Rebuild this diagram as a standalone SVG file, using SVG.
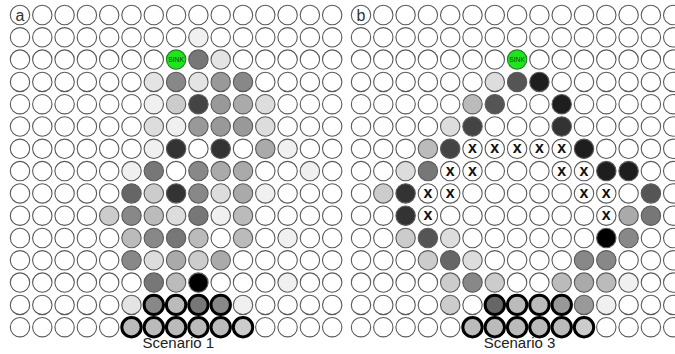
<svg xmlns="http://www.w3.org/2000/svg" width="675" height="354" viewBox="0 0 675 354">
<style>
circle{fill:#fff;stroke:#5a5a5a;stroke-width:1.1}
.t{stroke:#000;stroke-width:3}
.k0{fill:#000}.k1{fill:#1e1e1e}.k2{fill:#333}.k3{fill:#444}.k4{fill:#555}.k5{fill:#666}.k6{fill:#777}.k7{fill:#888}.k8{fill:#999}.k9{fill:#aaa}.ka{fill:#bbb}.kb{fill:#ccc}.kc{fill:#ddd}.kd{fill:#e4e4e4}.ke{fill:#f0f0f0}
.sink{fill:#1fe51f;stroke:#2a7a2a}
.st{font-family:"Liberation Sans",Arial,sans-serif;font-size:6.8px;fill:#0a4a0a;text-anchor:middle}
.x{font-family:"Liberation Sans",Arial,sans-serif;font-size:16px;font-weight:bold;fill:#111;text-anchor:middle}
.lb{font-family:"Liberation Sans",Arial,sans-serif;font-size:16px;fill:#333;text-anchor:middle}
.cap{font-family:"Liberation Sans",Arial,sans-serif;font-size:15px;fill:#222;text-anchor:middle}
</style>
<rect width="675" height="354" fill="#fff"/>
<g id="panel-a">
<g id="a-r0" transform="translate(0,15)"><g id="a-label"><circle cx="20" r="9.7"/><text class="lb" x="20" y="5.5">a</text></g><circle cx="42.3" r="9.7"/><circle cx="64.6" r="9.7"/><circle cx="86.9" r="9.7"/><circle cx="109.2" r="9.7"/><circle cx="131.5" r="9.7"/><circle cx="153.8" r="9.7"/><circle cx="176.1" r="9.7"/><circle cx="198.4" r="9.7"/><circle cx="220.7" r="9.7"/><circle cx="243" r="9.7"/><circle cx="265.3" r="9.7"/><circle cx="287.6" r="9.7"/><circle cx="309.9" r="9.7"/><circle cx="332.2" r="9.7"/></g>
<g id="a-r1" transform="translate(0,37.3)"><circle cx="20" r="9.7"/><circle cx="42.3" r="9.7"/><circle cx="64.6" r="9.7"/><circle cx="86.9" r="9.7"/><circle cx="109.2" r="9.7"/><circle cx="131.5" r="9.7"/><circle cx="153.8" r="9.7"/><circle cx="176.1" r="9.7"/><circle cx="198.4" r="9.7" class="ke"/><circle cx="220.7" r="9.7"/><circle cx="243" r="9.7"/><circle cx="265.3" r="9.7"/><circle cx="287.6" r="9.7"/><circle cx="309.9" r="9.7"/><circle cx="332.2" r="9.7"/></g>
<g id="a-r2" transform="translate(0,59.6)"><circle cx="20" r="9.7"/><circle cx="42.3" r="9.7"/><circle cx="64.6" r="9.7"/><circle cx="86.9" r="9.7"/><circle cx="109.2" r="9.7"/><circle cx="131.5" r="9.7"/><circle cx="153.8" r="9.7"/><g id="a-sink"><circle cx="176.1" r="9.7" class="sink"/><text class="st" x="176.1" y="2.4">SINK</text></g><circle cx="198.4" r="9.7" class="k6"/><circle cx="220.7" r="9.7" class="kd"/><circle cx="243" r="9.7"/><circle cx="265.3" r="9.7"/><circle cx="287.6" r="9.7"/><circle cx="309.9" r="9.7"/><circle cx="332.2" r="9.7"/></g>
<g id="a-r3" transform="translate(0,81.9)"><circle cx="20" r="9.7"/><circle cx="42.3" r="9.7"/><circle cx="64.6" r="9.7"/><circle cx="86.9" r="9.7"/><circle cx="109.2" r="9.7"/><circle cx="131.5" r="9.7"/><circle cx="153.8" r="9.7" class="kd"/><circle cx="176.1" r="9.7" class="k7"/><circle cx="198.4" r="9.7" class="kd"/><circle cx="220.7" r="9.7" class="k8"/><circle cx="243" r="9.7" class="k7"/><circle cx="265.3" r="9.7"/><circle cx="287.6" r="9.7"/><circle cx="309.9" r="9.7"/><circle cx="332.2" r="9.7"/></g>
<g id="a-r4" transform="translate(0,104.2)"><circle cx="20" r="9.7"/><circle cx="42.3" r="9.7"/><circle cx="64.6" r="9.7"/><circle cx="86.9" r="9.7"/><circle cx="109.2" r="9.7"/><circle cx="131.5" r="9.7"/><circle cx="153.8" r="9.7" class="ke"/><circle cx="176.1" r="9.7" class="kb"/><circle cx="198.4" r="9.7" class="k3"/><circle cx="220.7" r="9.7" class="k8"/><circle cx="243" r="9.7" class="k9"/><circle cx="265.3" r="9.7" class="kc"/><circle cx="287.6" r="9.7"/><circle cx="309.9" r="9.7"/><circle cx="332.2" r="9.7"/></g>
<g id="a-r5" transform="translate(0,126.5)"><circle cx="20" r="9.7"/><circle cx="42.3" r="9.7"/><circle cx="64.6" r="9.7"/><circle cx="86.9" r="9.7"/><circle cx="109.2" r="9.7"/><circle cx="131.5" r="9.7"/><circle cx="153.8" r="9.7" class="kc"/><circle cx="176.1" r="9.7" class="ke"/><circle cx="198.4" r="9.7" class="k8"/><circle cx="220.7" r="9.7" class="k8"/><circle cx="243" r="9.7" class="k8"/><circle cx="265.3" r="9.7" class="kc"/><circle cx="287.6" r="9.7"/><circle cx="309.9" r="9.7"/><circle cx="332.2" r="9.7"/></g>
<g id="a-r6" transform="translate(0,148.8)"><circle cx="20" r="9.7"/><circle cx="42.3" r="9.7"/><circle cx="64.6" r="9.7"/><circle cx="86.9" r="9.7"/><circle cx="109.2" r="9.7"/><circle cx="131.5" r="9.7"/><circle cx="153.8" r="9.7" class="ke"/><circle cx="176.1" r="9.7" class="k2"/><circle cx="198.4" r="9.7"/><circle cx="220.7" r="9.7" class="k2"/><circle cx="243" r="9.7"/><circle cx="265.3" r="9.7" class="k9"/><circle cx="287.6" r="9.7" class="ke"/><circle cx="309.9" r="9.7"/><circle cx="332.2" r="9.7"/></g>
<g id="a-r7" transform="translate(0,171.1)"><circle cx="20" r="9.7"/><circle cx="42.3" r="9.7"/><circle cx="64.6" r="9.7"/><circle cx="86.9" r="9.7"/><circle cx="109.2" r="9.7"/><circle cx="131.5" r="9.7" class="ke"/><circle cx="153.8" r="9.7" class="k6"/><circle cx="176.1" r="9.7"/><circle cx="198.4" r="9.7" class="k7"/><circle cx="220.7" r="9.7" class="k9"/><circle cx="243" r="9.7" class="k9"/><circle cx="265.3" r="9.7"/><circle cx="287.6" r="9.7"/><circle cx="309.9" r="9.7" class="ke"/><circle cx="332.2" r="9.7"/></g>
<g id="a-r8" transform="translate(0,193.4)"><circle cx="20" r="9.7"/><circle cx="42.3" r="9.7"/><circle cx="64.6" r="9.7"/><circle cx="86.9" r="9.7"/><circle cx="109.2" r="9.7"/><circle cx="131.5" r="9.7" class="k5"/><circle cx="153.8" r="9.7" class="kb"/><circle cx="176.1" r="9.7" class="k2"/><circle cx="198.4" r="9.7" class="k7"/><circle cx="220.7" r="9.7" class="kc"/><circle cx="243" r="9.7" class="k9"/><circle cx="265.3" r="9.7" class="ke"/><circle cx="287.6" r="9.7"/><circle cx="309.9" r="9.7"/><circle cx="332.2" r="9.7"/></g>
<g id="a-r9" transform="translate(0,215.7)"><circle cx="20" r="9.7"/><circle cx="42.3" r="9.7"/><circle cx="64.6" r="9.7"/><circle cx="86.9" r="9.7"/><circle cx="109.2" r="9.7" class="kb"/><circle cx="131.5" r="9.7" class="k7"/><circle cx="153.8" r="9.7" class="ka"/><circle cx="176.1" r="9.7" class="kc"/><circle cx="198.4" r="9.7" class="k6"/><circle cx="220.7" r="9.7" class="ke"/><circle cx="243" r="9.7" class="ka"/><circle cx="265.3" r="9.7"/><circle cx="287.6" r="9.7"/><circle cx="309.9" r="9.7"/><circle cx="332.2" r="9.7"/></g>
<g id="a-r10" transform="translate(0,238)"><circle cx="20" r="9.7"/><circle cx="42.3" r="9.7"/><circle cx="64.6" r="9.7"/><circle cx="86.9" r="9.7"/><circle cx="109.2" r="9.7"/><circle cx="131.5" r="9.7" class="ka"/><circle cx="153.8" r="9.7" class="k7"/><circle cx="176.1" r="9.7" class="k6"/><circle cx="198.4" r="9.7" class="ka"/><circle cx="220.7" r="9.7"/><circle cx="243" r="9.7" class="ka"/><circle cx="265.3" r="9.7"/><circle cx="287.6" r="9.7" class="ke"/><circle cx="309.9" r="9.7"/><circle cx="332.2" r="9.7"/></g>
<g id="a-r11" transform="translate(0,260.3)"><circle cx="20" r="9.7"/><circle cx="42.3" r="9.7"/><circle cx="64.6" r="9.7"/><circle cx="86.9" r="9.7"/><circle cx="109.2" r="9.7"/><circle cx="131.5" r="9.7" class="k7"/><circle cx="153.8" r="9.7" class="kc"/><circle cx="176.1" r="9.7" class="k9"/><circle cx="198.4" r="9.7" class="kb"/><circle cx="220.7" r="9.7" class="k9"/><circle cx="243" r="9.7"/><circle cx="265.3" r="9.7"/><circle cx="287.6" r="9.7"/><circle cx="309.9" r="9.7"/><circle cx="332.2" r="9.7"/></g>
<g id="a-r12" transform="translate(0,282.6)"><circle cx="20" r="9.7"/><circle cx="42.3" r="9.7"/><circle cx="64.6" r="9.7"/><circle cx="86.9" r="9.7"/><circle cx="109.2" r="9.7"/><circle cx="131.5" r="9.7"/><circle cx="153.8" r="9.7" class="k6"/><circle cx="176.1" r="9.7" class="ka"/><circle cx="198.4" r="9.7" class="k0"/><circle cx="220.7" r="9.7"/><circle cx="243" r="9.7"/><circle cx="265.3" r="9.7"/><circle cx="287.6" r="9.7" class="ke"/><circle cx="309.9" r="9.7"/><circle cx="332.2" r="9.7"/></g>
<g id="a-r13" transform="translate(0,304.9)"><circle cx="20" r="9.7"/><circle cx="42.3" r="9.7"/><circle cx="64.6" r="9.7"/><circle cx="86.9" r="9.7"/><circle cx="109.2" r="9.7"/><circle cx="131.5" r="9.7" class="kd"/><circle cx="153.8" r="9.7" class="t k7"/><circle cx="176.1" r="9.7" class="t ka"/><circle cx="198.4" r="9.7" class="t k6"/><circle cx="220.7" r="9.7" class="t k7"/><circle cx="243" r="9.7" class="ke"/><circle cx="265.3" r="9.7"/><circle cx="287.6" r="9.7"/><circle cx="309.9" r="9.7"/><circle cx="332.2" r="9.7"/></g>
<g id="a-r14" transform="translate(0,327.2)"><circle cx="20" r="9.7"/><circle cx="42.3" r="9.7"/><circle cx="64.6" r="9.7"/><circle cx="86.9" r="9.7"/><circle cx="109.2" r="9.7"/><circle cx="131.5" r="9.7" class="t ka"/><circle cx="153.8" r="9.7" class="t ka"/><circle cx="176.1" r="9.7" class="t ka"/><circle cx="198.4" r="9.7" class="t ka"/><circle cx="220.7" r="9.7" class="t ka"/><circle cx="243" r="9.7" class="t kb"/><circle cx="265.3" r="9.7"/><circle cx="287.6" r="9.7"/><circle cx="309.9" r="9.7"/><circle cx="332.2" r="9.7"/></g>
<text class="cap" x="178.3" y="348">Scenario 1</text>
</g>
<g id="panel-b">
<g id="b-r0" transform="translate(0,15)"><g id="b-label"><circle cx="361" r="9.7"/><text class="lb" x="361" y="5.5">b</text></g><circle cx="383.3" r="9.7"/><circle cx="405.6" r="9.7"/><circle cx="427.9" r="9.7"/><circle cx="450.2" r="9.7"/><circle cx="472.5" r="9.7"/><circle cx="494.8" r="9.7"/><circle cx="517.1" r="9.7"/><circle cx="539.4" r="9.7"/><circle cx="561.7" r="9.7"/><circle cx="584" r="9.7"/><circle cx="606.3" r="9.7"/><circle cx="628.6" r="9.7"/><circle cx="650.9" r="9.7"/><circle cx="673.2" r="9.7"/></g>
<g id="b-r1" transform="translate(0,37.3)"><circle cx="361" r="9.7"/><circle cx="383.3" r="9.7"/><circle cx="405.6" r="9.7"/><circle cx="427.9" r="9.7"/><circle cx="450.2" r="9.7"/><circle cx="472.5" r="9.7"/><circle cx="494.8" r="9.7"/><circle cx="517.1" r="9.7"/><circle cx="539.4" r="9.7"/><circle cx="561.7" r="9.7"/><circle cx="584" r="9.7"/><circle cx="606.3" r="9.7"/><circle cx="628.6" r="9.7"/><circle cx="650.9" r="9.7"/><circle cx="673.2" r="9.7"/></g>
<g id="b-r2" transform="translate(0,59.6)"><circle cx="361" r="9.7"/><circle cx="383.3" r="9.7"/><circle cx="405.6" r="9.7"/><circle cx="427.9" r="9.7"/><circle cx="450.2" r="9.7"/><circle cx="472.5" r="9.7"/><circle cx="494.8" r="9.7"/><g id="b-sink"><circle cx="517.1" r="9.7" class="sink"/><text class="st" x="517.1" y="2.4">SINK</text></g><circle cx="539.4" r="9.7"/><circle cx="561.7" r="9.7"/><circle cx="584" r="9.7"/><circle cx="606.3" r="9.7"/><circle cx="628.6" r="9.7"/><circle cx="650.9" r="9.7"/><circle cx="673.2" r="9.7"/></g>
<g id="b-r3" transform="translate(0,81.9)"><circle cx="361" r="9.7"/><circle cx="383.3" r="9.7"/><circle cx="405.6" r="9.7"/><circle cx="427.9" r="9.7"/><circle cx="450.2" r="9.7"/><circle cx="472.5" r="9.7"/><circle cx="494.8" r="9.7" class="kc"/><circle cx="517.1" r="9.7" class="k4"/><circle cx="539.4" r="9.7" class="k1"/><circle cx="561.7" r="9.7"/><circle cx="584" r="9.7"/><circle cx="606.3" r="9.7"/><circle cx="628.6" r="9.7"/><circle cx="650.9" r="9.7"/><circle cx="673.2" r="9.7"/></g>
<g id="b-r4" transform="translate(0,104.2)"><circle cx="361" r="9.7"/><circle cx="383.3" r="9.7"/><circle cx="405.6" r="9.7"/><circle cx="427.9" r="9.7"/><circle cx="450.2" r="9.7"/><circle cx="472.5" r="9.7" class="ka"/><circle cx="494.8" r="9.7" class="k4"/><circle cx="517.1" r="9.7"/><circle cx="539.4" r="9.7"/><circle cx="561.7" r="9.7" class="k1"/><circle cx="584" r="9.7"/><circle cx="606.3" r="9.7"/><circle cx="628.6" r="9.7"/><circle cx="650.9" r="9.7"/><circle cx="673.2" r="9.7"/></g>
<g id="b-r5" transform="translate(0,126.5)"><circle cx="361" r="9.7"/><circle cx="383.3" r="9.7"/><circle cx="405.6" r="9.7"/><circle cx="427.9" r="9.7"/><circle cx="450.2" r="9.7" class="kc"/><circle cx="472.5" r="9.7" class="k3"/><circle cx="494.8" r="9.7"/><circle cx="517.1" r="9.7"/><circle cx="539.4" r="9.7"/><circle cx="561.7" r="9.7" class="k2"/><circle cx="584" r="9.7"/><circle cx="606.3" r="9.7"/><circle cx="628.6" r="9.7"/><circle cx="650.9" r="9.7"/><circle cx="673.2" r="9.7"/></g>
<g id="b-r6" transform="translate(0,148.8)"><circle cx="361" r="9.7"/><circle cx="383.3" r="9.7"/><circle cx="405.6" r="9.7"/><circle cx="427.9" r="9.7" class="ka"/><circle cx="450.2" r="9.7" class="k3"/><circle cx="472.5" r="9.7"/><text class="x" x="472.5" y="4.5">x</text><circle cx="494.8" r="9.7"/><text class="x" x="494.8" y="4.5">x</text><circle cx="517.1" r="9.7"/><text class="x" x="517.1" y="4.5">x</text><circle cx="539.4" r="9.7"/><text class="x" x="539.4" y="4.5">x</text><circle cx="561.7" r="9.7"/><text class="x" x="561.7" y="4.5">x</text><circle cx="584" r="9.7" class="k1"/><circle cx="606.3" r="9.7"/><circle cx="628.6" r="9.7"/><circle cx="650.9" r="9.7"/><circle cx="673.2" r="9.7"/></g>
<g id="b-r7" transform="translate(0,171.1)"><circle cx="361" r="9.7"/><circle cx="383.3" r="9.7"/><circle cx="405.6" r="9.7" class="kc"/><circle cx="427.9" r="9.7" class="k6"/><circle cx="450.2" r="9.7"/><text class="x" x="450.2" y="4.5">x</text><circle cx="472.5" r="9.7"/><text class="x" x="472.5" y="4.5">x</text><circle cx="494.8" r="9.7"/><circle cx="517.1" r="9.7"/><circle cx="539.4" r="9.7"/><circle cx="561.7" r="9.7"/><text class="x" x="561.7" y="4.5">x</text><circle cx="584" r="9.7"/><text class="x" x="584" y="4.5">x</text><circle cx="606.3" r="9.7" class="k1"/><circle cx="628.6" r="9.7" class="k1"/><circle cx="650.9" r="9.7"/><circle cx="673.2" r="9.7"/></g>
<g id="b-r8" transform="translate(0,193.4)"><circle cx="361" r="9.7"/><circle cx="383.3" r="9.7" class="kb"/><circle cx="405.6" r="9.7" class="k2"/><circle cx="427.9" r="9.7"/><text class="x" x="427.9" y="4.5">x</text><circle cx="450.2" r="9.7"/><text class="x" x="450.2" y="4.5">x</text><circle cx="472.5" r="9.7"/><circle cx="494.8" r="9.7"/><circle cx="517.1" r="9.7"/><circle cx="539.4" r="9.7"/><circle cx="561.7" r="9.7"/><circle cx="584" r="9.7"/><text class="x" x="584" y="4.5">x</text><circle cx="606.3" r="9.7"/><text class="x" x="606.3" y="4.5">x</text><circle cx="628.6" r="9.7"/><circle cx="650.9" r="9.7" class="k4"/><circle cx="673.2" r="9.7"/></g>
<g id="b-r9" transform="translate(0,215.7)"><circle cx="361" r="9.7"/><circle cx="383.3" r="9.7"/><circle cx="405.6" r="9.7" class="k2"/><circle cx="427.9" r="9.7"/><text class="x" x="427.9" y="4.5">x</text><circle cx="450.2" r="9.7"/><circle cx="472.5" r="9.7"/><circle cx="494.8" r="9.7"/><circle cx="517.1" r="9.7"/><circle cx="539.4" r="9.7"/><circle cx="561.7" r="9.7"/><circle cx="584" r="9.7"/><circle cx="606.3" r="9.7"/><text class="x" x="606.3" y="4.5">x</text><circle cx="628.6" r="9.7" class="k9"/><circle cx="650.9" r="9.7" class="k6"/><circle cx="673.2" r="9.7"/></g>
<g id="b-r10" transform="translate(0,238)"><circle cx="361" r="9.7"/><circle cx="383.3" r="9.7"/><circle cx="405.6" r="9.7" class="kb"/><circle cx="427.9" r="9.7" class="k4"/><circle cx="450.2" r="9.7" class="kc"/><circle cx="472.5" r="9.7"/><circle cx="494.8" r="9.7"/><circle cx="517.1" r="9.7"/><circle cx="539.4" r="9.7"/><circle cx="561.7" r="9.7"/><circle cx="584" r="9.7"/><circle cx="606.3" r="9.7" class="k0"/><circle cx="628.6" r="9.7" class="k7"/><circle cx="650.9" r="9.7"/><circle cx="673.2" r="9.7"/></g>
<g id="b-r11" transform="translate(0,260.3)"><circle cx="361" r="9.7"/><circle cx="383.3" r="9.7"/><circle cx="405.6" r="9.7"/><circle cx="427.9" r="9.7" class="kb"/><circle cx="450.2" r="9.7" class="k5"/><circle cx="472.5" r="9.7" class="kc"/><circle cx="494.8" r="9.7"/><circle cx="517.1" r="9.7"/><circle cx="539.4" r="9.7"/><circle cx="561.7" r="9.7"/><circle cx="584" r="9.7" class="k7"/><circle cx="606.3" r="9.7" class="k7"/><circle cx="628.6" r="9.7"/><circle cx="650.9" r="9.7"/><circle cx="673.2" r="9.7"/></g>
<g id="b-r12" transform="translate(0,282.6)"><circle cx="361" r="9.7"/><circle cx="383.3" r="9.7"/><circle cx="405.6" r="9.7"/><circle cx="427.9" r="9.7"/><circle cx="450.2" r="9.7" class="kb"/><circle cx="472.5" r="9.7" class="k7"/><circle cx="494.8" r="9.7" class="kb"/><circle cx="517.1" r="9.7"/><circle cx="539.4" r="9.7"/><circle cx="561.7" r="9.7" class="ka"/><circle cx="584" r="9.7" class="k9"/><circle cx="606.3" r="9.7" class="ka"/><circle cx="628.6" r="9.7" class="ke"/><circle cx="650.9" r="9.7"/><circle cx="673.2" r="9.7"/></g>
<g id="b-r13" transform="translate(0,304.9)"><circle cx="361" r="9.7"/><circle cx="383.3" r="9.7"/><circle cx="405.6" r="9.7"/><circle cx="427.9" r="9.7"/><circle cx="450.2" r="9.7" class="kb"/><circle cx="472.5" r="9.7"/><circle cx="494.8" r="9.7" class="t k5"/><circle cx="517.1" r="9.7" class="t ka"/><circle cx="539.4" r="9.7" class="t ka"/><circle cx="561.7" r="9.7" class="t k8"/><circle cx="584" r="9.7" class="k8"/><circle cx="606.3" r="9.7" class="ke"/><circle cx="628.6" r="9.7"/><circle cx="650.9" r="9.7"/><circle cx="673.2" r="9.7"/></g>
<g id="b-r14" transform="translate(0,327.2)"><circle cx="361" r="9.7"/><circle cx="383.3" r="9.7"/><circle cx="405.6" r="9.7"/><circle cx="427.9" r="9.7"/><circle cx="450.2" r="9.7"/><circle cx="472.5" r="9.7" class="t ka"/><circle cx="494.8" r="9.7" class="t ka"/><circle cx="517.1" r="9.7" class="t ka"/><circle cx="539.4" r="9.7" class="t ka"/><circle cx="561.7" r="9.7" class="t ka"/><circle cx="584" r="9.7" class="t kb"/><circle cx="606.3" r="9.7"/><circle cx="628.6" r="9.7"/><circle cx="650.9" r="9.7"/><circle cx="673.2" r="9.7"/></g>
<text class="cap" x="519.5" y="348">Scenario 3</text>
</g>
</svg>
